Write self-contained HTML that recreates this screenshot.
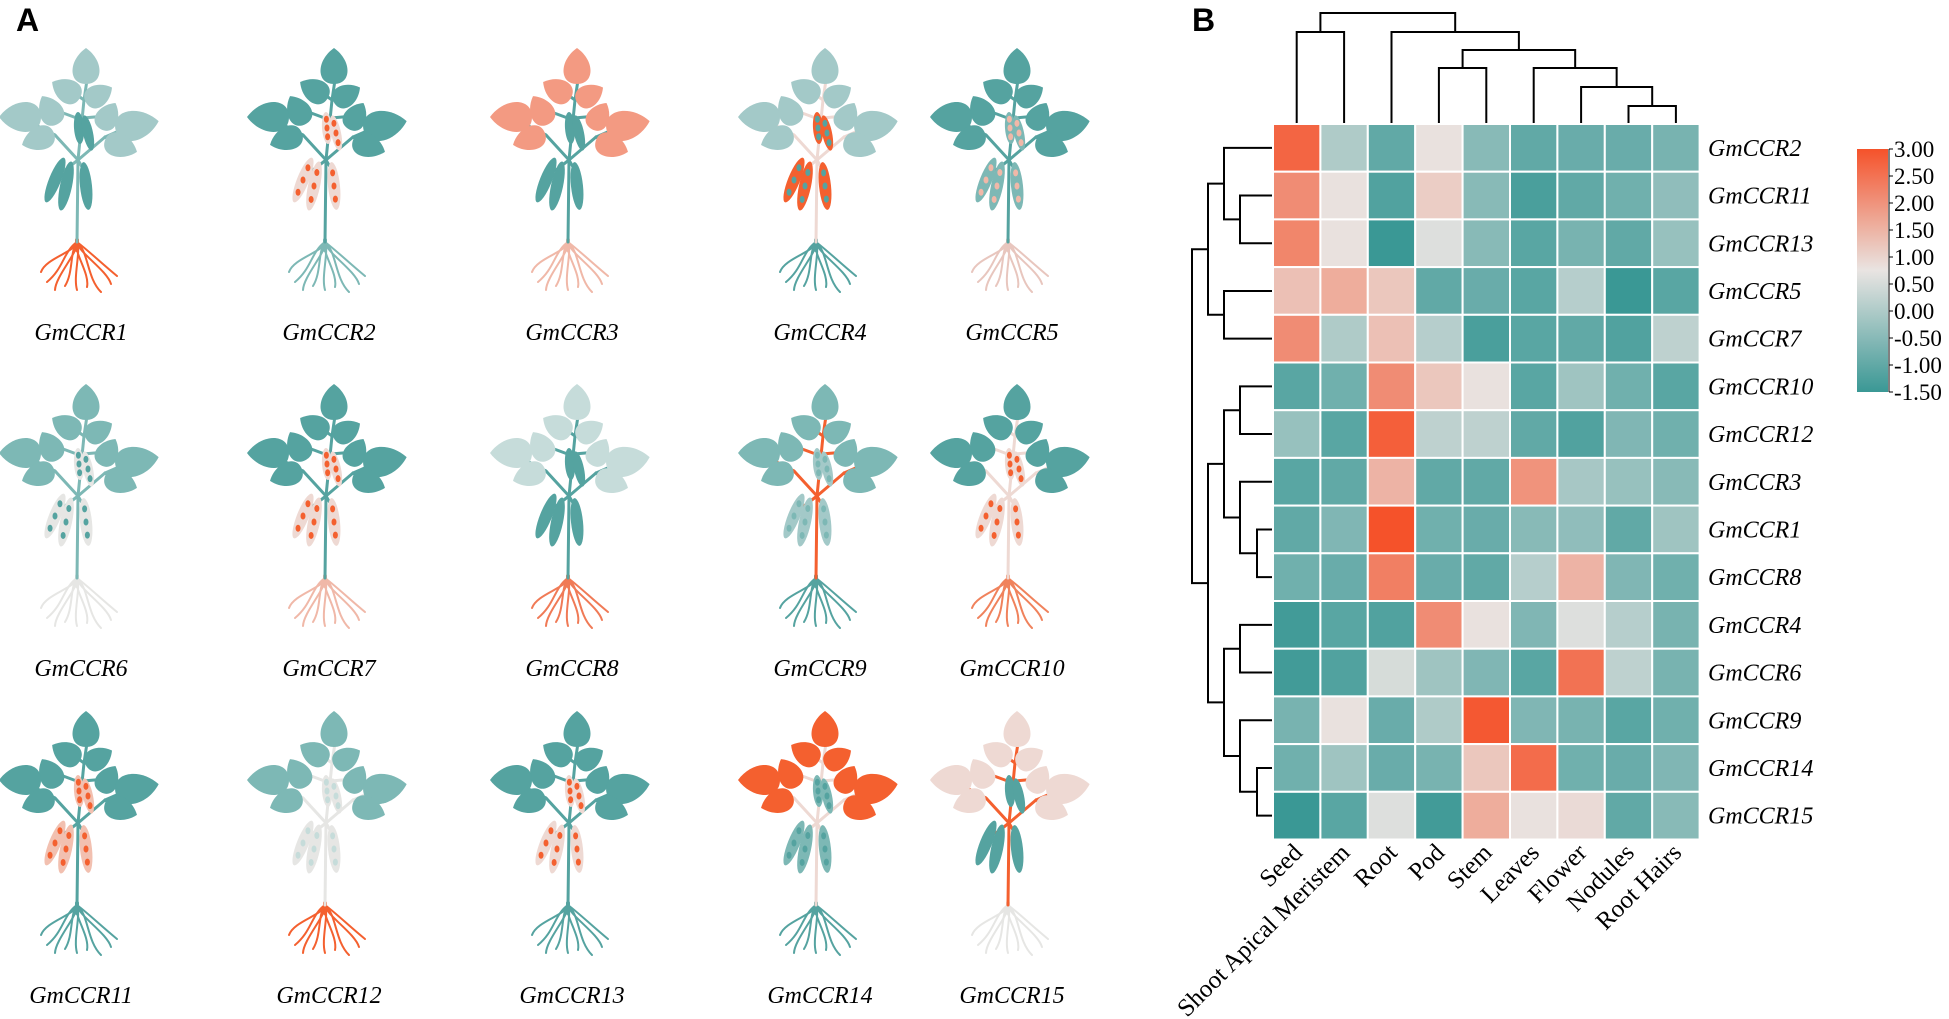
<!DOCTYPE html>
<html><head><meta charset="utf-8"><style>
html,body{margin:0;padding:0;background:#fff;}
svg{display:block;}
text{font-family:"Liberation Serif",serif;}
</style></head><body>
<svg id="fig" width="1949" height="1019" viewBox="0 0 1949 1019" xmlns="http://www.w3.org/2000/svg">
<text x="16" y="31" style="font-family:'Liberation Sans',sans-serif;font-weight:bold;font-size:32px">A</text>
<text x="1192" y="31" style="font-family:'Liberation Sans',sans-serif;font-weight:bold;font-size:32px">B</text>
<g id="plants"></g>
<g id="heat"></g>
<g id="coldend"></g>
<g id="rowdend"></g>
<g id="legend"></g>
</svg>
<script>
const tissues = ["Seed","Shoot Apical Meristem","Root","Pod","Stem","Leaves","Flower","Nodules","Root Hairs"];
const genes = ["GmCCR2","GmCCR11","GmCCR13","GmCCR5","GmCCR7","GmCCR10","GmCCR12","GmCCR3","GmCCR1","GmCCR8","GmCCR4","GmCCR6","GmCCR9","GmCCR14","GmCCR15"];
const vGmCCR2  = [2.7, 0.0,-1.0, 0.8,-0.5,-1.0,-0.9,-0.9,-0.7];
const vGmCCR11 = [2.1, 0.8,-1.2, 1.1,-0.5,-1.3,-1.0,-0.8,-0.4];
const vGmCCR13 = [2.2, 0.8,-1.5, 0.6,-0.5,-1.1,-0.7,-1.0,-0.3];
const vGmCCR5  = [1.3, 1.6, 1.2,-1.0,-0.9,-1.1, 0.1,-1.5,-1.1];
const vGmCCR7  = [2.1, 0.0, 1.3, 0.1,-1.3,-1.1,-1.0,-1.2, 0.2];
const vGmCCR10 = [-1.1,-0.8, 2.1, 1.2, 0.8,-1.1,-0.2,-0.8,-1.1];
const vGmCCR12 = [-0.3,-1.1, 2.8, 0.2, 0.2,-1.0,-1.2,-0.6,-0.8];
const vGmCCR3  = [-1.1,-1.0, 1.5,-1.0,-1.0, 2.0,-0.1,-0.3,-0.5];
const vGmCCR1  = [-1.0,-0.6, 3.0,-0.8,-0.9,-0.5,-0.4,-1.0,-0.2];
const vGmCCR8  = [-0.8,-0.9, 2.3,-0.9,-1.0, 0.1, 1.5,-0.6,-0.8];
const vGmCCR4  = [-1.4,-1.1,-1.2, 2.1, 0.8,-0.6, 0.6, 0.1,-0.7];
const vGmCCR6  = [-1.4,-1.2, 0.5,-0.2,-0.6,-1.1, 2.5, 0.2,-0.7];
const vGmCCR9  = [-0.7, 0.8,-0.9, 0.0, 2.9,-0.6,-0.7,-1.1,-0.8];
const vGmCCR14 = [-0.8,-0.2,-0.9,-0.7, 1.2, 2.6,-0.8,-0.9,-0.6];
const vGmCCR15 = [-1.5,-1.1, 0.6,-1.4, 1.6, 0.8, 0.9,-1.0,-0.5];
const values = [vGmCCR2,vGmCCR11,vGmCCR13,vGmCCR5,vGmCCR7,vGmCCR10,vGmCCR12,vGmCCR3,vGmCCR1,vGmCCR8,vGmCCR4,vGmCCR6,vGmCCR9,vGmCCR14,vGmCCR15];
const legendTicks = ["3.00","2.50","2.00","1.50","1.00","0.50","0.00","-0.50","-1.00","-1.50"];
const legendTickValues = [3,2.5,2,1.5,1,0.5,0,-0.5,-1,-1.5];
// column dendrogram merges: [childA, childB, height]
const colMerges = [[7,8,17],[6,9,36],[5,10,55],[3,4,55],[12,11,73],[2,13,91],[0,1,91],[15,14,110]];
// row dendrogram merges
const rowMerges = [[1,2,32],[0,15,48],[3,4,48],[16,17,64],[5,6,32],[8,9,15],[7,20,32],[19,21,48],[10,11,32],[13,14,15],[12,24,32],[23,25,48],[22,26,64],[18,27,80]];

const NS="http://www.w3.org/2000/svg";
function mk(tag,attrs,parent){const e=document.createElementNS(NS,tag);for(const k in attrs)e.setAttribute(k,attrs[k]);parent.appendChild(e);return e;}

const X0=1273, Y0=124, CW=47.4, CH=47.7;
const xCenter=i=>X0+CW*(i+0.5);
const yCenter=j=>Y0+CH*(j+0.5);
const VMIN=-1.5, VMAX=3;
function hex(c){return [parseInt(c.slice(1,3),16),parseInt(c.slice(3,5),16),parseInt(c.slice(5,7),16)];}
const cLow=hex("#3a9895"), cMid=hex("#e9e4e2"), cHigh=hex("#f5522a");
function color(v){
  const t=Math.max(0,Math.min(1,(v-VMIN)/(VMAX-VMIN)));
  let a,b,u; if(t<0.5){a=cLow;b=cMid;u=t/0.5;}else{a=cMid;b=cHigh;u=(t-0.5)/0.5;}
  return "rgb("+a.map((x,i)=>Math.round(x+(b[i]-x)*u)).join(",")+")";
}

const heat=document.getElementById("heat");
values.forEach((row,j)=>{
  row.forEach((v,i)=>{
    const r=mk("rect",{x:X0+CW*i,y:Y0+CH*j,width:CW,height:CH,fill:color(v),stroke:"#fff","stroke-width":2},heat);
    
    
  });
  const t=mk("text",{x:1708,y:yCenter(j)+8,"font-size":24,"font-style":"italic"},heat);
  t.textContent=genes[j];
  
  
});
tissues.forEach((name,i)=>{
  const cx=xCenter(i)+7, cy=854;
  const t=mk("text",{x:cx,y:cy,"font-size":25,"text-anchor":"end",transform:"rotate(-45 "+cx+" "+cy+")"},heat);
  t.textContent=name;
  
  
});

(function(){
  const g=document.getElementById("coldend");
  const n=tissues.length; const pos=[],h=[];
  for(let i=0;i<n;i++){pos[i]=xCenter(i);h[i]=0;}
  const base=123;
  colMerges.forEach((m,k)=>{
    const [a,b,ht]=m; const id=n+k; const y=base-ht;
    const d="M"+pos[a]+","+(base-h[a])+"V"+y+"H"+pos[b]+"V"+(base-h[b]);
    const p=mk("path",{d:d,fill:"none",stroke:"#000","stroke-width":2},g);
    
    
    pos[id]=(pos[a]+pos[b])/2; h[id]=ht;
  });
})();
(function(){
  const g=document.getElementById("rowdend");
  const n=genes.length; const pos=[],h=[];
  for(let j=0;j<n;j++){pos[j]=yCenter(j);h[j]=0;}
  const base=1272;
  rowMerges.forEach((m,k)=>{
    const [a,b,ht]=m; const id=n+k; const x=base-ht;
    const d="M"+(base-h[a])+","+pos[a]+"H"+x+"V"+pos[b]+"H"+(base-h[b]);
    const p=mk("path",{d:d,fill:"none",stroke:"#000","stroke-width":2},g);
    
    
    pos[id]=(pos[a]+pos[b])/2; h[id]=ht;
  });
})();

(function(){
  const g=document.getElementById("legend");
  const LX=1857, LW=31, LT=149, LB=392;
  const defs=mk("defs",{},g);
  const grad=mk("linearGradient",{id:"lg",x1:0,y1:1,x2:0,y2:0},defs);
  for(let s=0;s<=10;s++){const v=VMIN+(VMAX-VMIN)*s/10;mk("stop",{offset:s/10,"stop-color":color(v)},grad);}
  const r=mk("rect",{x:LX,y:LT,width:LW,height:LB-LT,fill:"url(#lg)"},g);
  
  
  const ly=v=>LB-(v-VMIN)/(VMAX-VMIN)*(LB-LT);
  mk("line",{x1:LX+LW+1,y1:LT,x2:LX+LW+1,y2:LB,stroke:"#000","stroke-width":1},g);
  legendTickValues.forEach((v,i)=>{
    const y=ly(v);
    mk("line",{x1:LX+LW+1,y1:y,x2:LX+LW+5,y2:y,stroke:"#000","stroke-width":1},g);
    const t=mk("text",{x:LX+LW+6,y:y+8,"font-size":23},g);
    t.textContent=legendTicks[i];
    
    
  });
})();

const T="#55a3a0", TL="#a3c9c8", TM="#7db8b5", TG="#c6dcda", O="#f4602f", S="#f39a82", P="#eed9d3", W="#e6e6e4";
const plantNames=["GmCCR1","GmCCR2","GmCCR3","GmCCR4","GmCCR5","GmCCR6","GmCCR7","GmCCR8","GmCCR9","GmCCR10","GmCCR11","GmCCR12","GmCCR13","GmCCR14","GmCCR15"];
const plantColors=[
 [TL,TM,T,null,O],[T,T,P,O,TM],[S,T,T,null,"#f0b8a8"],[TL,P,O,T,T],[T,T,TM,"#f0b8a8","#e8c6be"],
 [TM,TM,W,T,W],[T,T,P,O,"#f0b8a8"],[TG,T,T,null,"#f07a56"],[TM,O,TL,TM,T],[T,P,P,O,"#f0825c"],
 [T,T,"#f2c0b0",O,T],[TM,W,W,TG,O],[T,T,P,O,T],[O,P,TM,T,T],[P,O,T,null,W]
];
const colX=[77,325,568,816,1008], rowY=[50,386,713], labY=[340,676,1003];
function leafPath(cx,cy,ang,L,w){
  return '<path transform="translate('+cx+','+cy+') rotate('+ang+')" d="M'+(-L/2)+',0 C'+(-L/2)+','+(-w)+' '+(L*0.15)+','+(-w)+' '+(L/2)+',0 C'+(L*0.15)+','+(w)+' '+(-L/2)+','+w+' '+(-L/2)+',0Z"/>';
}
(function(){
  const g=document.getElementById("plants");
  plantNames.forEach((nm,k)=>{
    const [lc,sc,pc,dc,rc]=plantColors[k];
    const ox=colX[k%5]-77, oy=rowY[Math.floor(k/5)]-50;
    const pg=mk("g",{transform:"translate("+ox+","+oy+")"},g);
    
    
    let s='';
    s+='<g stroke="'+rc+'" stroke-width="2" fill="none" stroke-linecap="round">';
    [[-30,282,-8],[-22,290,6],[-12,286,-5],[0,290,4],[10,287,-6],[24,292,7],[34,284,-6],[40,276,5],[-36,272,6]].forEach(p=>{
      const ex=77+p[0], ey=p[1];
      s+='<path d="M77,242 C'+(77+p[0]*0.2+p[2])+','+(252)+' '+(77+p[0]*0.7-p[2])+','+(ey-14)+' '+ex+','+ey+'"/>';
    });
    s+='<path d="M77,240 L77,250" stroke-width="4"/></g>';
    s+='<g stroke="'+sc+'" stroke-width="3" fill="none" stroke-linecap="round">';
    s+='<path d="M77,242 L78,160 L84,100 L87,80"/>';
    s+='<path d="M78,160 L55,135 L22,118"/><path d="M78,160 L105,137 L135,124"/>';
    s+='<path d="M55,135 L40,140"/><path d="M105,137 L118,146"/>';
    s+='<path d="M82,120 L55,110"/><path d="M83,118 L106,116"/>';
    s+='<path d="M84,100 L70,90"/><path d="M85,100 L98,94"/>';
    s+='<path d="M78,160 L65,170"/><path d="M78,160 L85,172"/></g>';
    s+='<g fill="'+lc+'">';
    s+=leafPath(86,66,-90,36,18);
    s+=leafPath(66,90,-150,32,16);
    s+=leafPath(99,95,-30,30,15);
    s+=leafPath(50,110,-120,32,16);
    s+=leafPath(108,116,-60,30,15);
    s+=leafPath(20,117,180,42,20);
    s+=leafPath(137,125,-10,44,20);
    s+=leafPath(38,139,160,34,16);
    s+=leafPath(121,146,20,34,16);
    s+='</g>';
    const pods=[[55,180,22,6,24],[66,186,12,6,25],[86,186,-6,6,24],[79,128,-4,5,16],[88,133,-12,5,18]];
    s+='<g fill="'+pc+'">';
    pods.forEach(p=>{s+='<ellipse cx="'+p[0]+'" cy="'+p[1]+'" rx="'+p[3]+'" ry="'+p[4]+'" transform="rotate('+p[2]+' '+p[0]+' '+p[1]+')"/>';});
    s+='</g>';
    if(dc){
      s+='<g fill="'+dc+'">';
      pods.forEach(p=>{for(let d=-1;d<=1;d++){const dy=d*p[4]*0.55;const a=p[2]*Math.PI/180;s+='<ellipse cx="'+(p[0]-dy*Math.sin(a))+'" cy="'+(p[1]+dy*Math.cos(a))+'" rx="2.5" ry="3.5"/>';}});
      s+='</g>';
    }
    pg.innerHTML=s;
    const t=mk("text",{x:colX[k%5]+4,y:labY[Math.floor(k/5)],"font-size":24,"font-style":"italic","text-anchor":"middle"},g);
    t.textContent=nm;
    
    
  });
})();
</script>
</body></html>
